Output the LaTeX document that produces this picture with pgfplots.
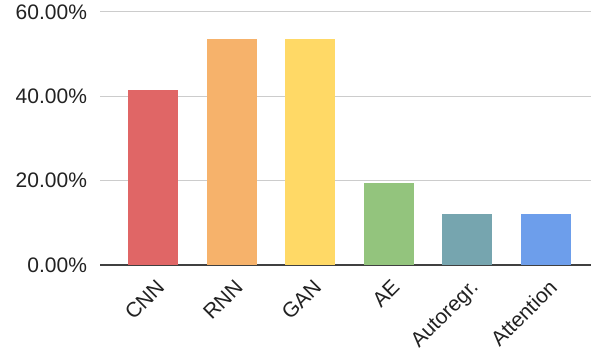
\documentclass[border=0pt]{standalone}
\usepackage{pgfplots}
\pgfplotsset{compat=1.18}
\usepackage{fontspec}
\setmainfont{Liberation Sans}
\definecolor{cnn}{HTML}{E06666}
\definecolor{rnn}{HTML}{F6B26B}
\definecolor{gan}{HTML}{FFD966}
\definecolor{ae}{HTML}{93C47D}
\definecolor{ar}{HTML}{76A5AF}
\definecolor{att}{HTML}{6D9EEB}
\definecolor{txt}{HTML}{222222}
\begin{document}
\begin{tikzpicture}
\begin{axis}[
  name=ax,
  scale only axis,
  width=245.5pt, height=126.5pt,
  xmin=-0.68, xmax=5.58,
  ymin=0, ymax=60,
  ybar, bar width=25pt,
  axis x line*=bottom,
  axis y line*=left,
  y axis line style={draw=none},
  x axis line style={draw=black!75, line width=0.8pt},
  ytick={0,20,40,60},
  yticklabels={0.00\%,20.00\%,40.00\%,60.00\%},
  ymajorgrids,
  grid style={draw=black!20, line width=0.5pt},
  xtick={0,1,2,3,4,5},
  xticklabels={CNN,RNN,GAN,AE,Autoregr.,Attention},
  major tick length=0pt,
  tick label style={font=\fontsize{10.5}{12}\selectfont, text=txt},
  yticklabel style={xshift=-3pt},
  xticklabel style={yshift=-5pt, xshift=1pt, rotate=45, anchor=north east, inner sep=1pt},
  ytick style={draw=none}, xtick style={draw=none},
]
\addplot[fill=cnn, draw=none, bar shift=0pt] coordinates {(0,41.46)};
\addplot[fill=rnn, draw=none, bar shift=0pt] coordinates {(1,53.66)};
\addplot[fill=gan, draw=none, bar shift=0pt] coordinates {(2,53.66)};
\addplot[fill=ae, draw=none, bar shift=0pt] coordinates {(3,19.51)};
\addplot[fill=ar, draw=none, bar shift=0pt] coordinates {(4,12.20)};
\addplot[fill=att, draw=none, bar shift=0pt] coordinates {(5,12.20)};
\end{axis}
\pgfresetboundingbox
\path ([shift={(-50pt,-46pt)}]ax.south west) rectangle ([shift={(0pt,132.5pt)}]ax.south east);
\end{tikzpicture}
\end{document}
